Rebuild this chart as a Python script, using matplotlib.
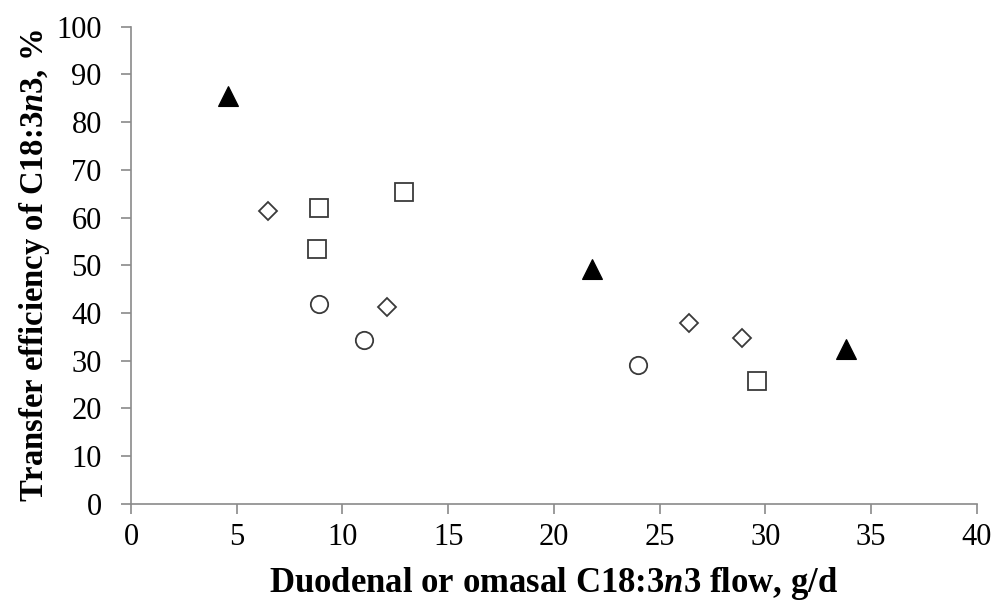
import matplotlib
matplotlib.use("Agg")
import matplotlib.pyplot as plt

# --------------------------------------------------------
# Data
# --------------------------------------------------------
tri_x = [4.6, 21.8, 33.8]
tri_y = [85.5, 49.3, 32.4]

diamond_x = [6.5, 12.1, 26.4, 28.9]
diamond_y = [61.4, 41.2, 37.9, 34.7]

square_x = [8.9, 12.9, 8.8, 29.6]
square_y = [61.9, 65.3, 53.5, 25.7]

circle_x = [8.9, 11.0, 24.0]
circle_y = [41.9, 34.3, 29.1]

x_ticks = list(range(0, 41, 5))
y_ticks = list(range(0, 101, 10))

plt.rcParams['font.family'] = ['Liberation Serif', 'DejaVu Serif']
plt.rcParams['mathtext.fontset'] = 'custom'
plt.rcParams['mathtext.it'] = 'Liberation Serif:italic:bold'
plt.rcParams['mathtext.rm'] = 'Liberation Serif:bold'

fig = plt.figure(figsize=(9.97, 6.07), dpi=100)
ax = fig.add_axes([0.1314, 0.1702, 0.8482, 0.7858])

edge = '#3a3a3a'
ax.plot(tri_x, tri_y, '^', ms=14, color='black', mec='black', mew=0.8, ls='none')
ax.plot(diamond_x, diamond_y, 'D', ms=9.5, mfc='white', mec=edge, mew=1.3, ls='none')
ax.plot(square_x, square_y, 's', ms=12.5, mfc='white', mec=edge, mew=1.3, ls='none')
ax.plot(circle_x, circle_y, 'o', ms=12.5, mfc='white', mec=edge, mew=1.3, ls='none')

ax.set_xlim(0, 40)
ax.set_ylim(0, 100)
ax.set_xticks(x_ticks)
ax.set_yticks(y_ticks)

for s in ['top', 'right']:
    ax.spines[s].set_visible(False)
for s in ['left', 'bottom']:
    ax.spines[s].set_color('#8a8a8a')
    ax.spines[s].set_linewidth(1.2)
ax.tick_params(axis='both', direction='out', length=7, width=1.2, color='#8a8a8a',
               labelsize=22)
ax.tick_params(axis='y', pad=14)
ax.tick_params(axis='x', pad=7)

ax.set_xlabel(r'Duodenal or omasal C18:3$\mathit{n}$3 flow, g/d', fontsize=25,
              fontweight='bold', labelpad=9)
ax.set_ylabel(r'Transfer efficiency of C18:3$\mathit{n}$3, %', fontsize=23.5,
              fontweight='bold', labelpad=3)

fig.savefig('out.png', dpi=100)
